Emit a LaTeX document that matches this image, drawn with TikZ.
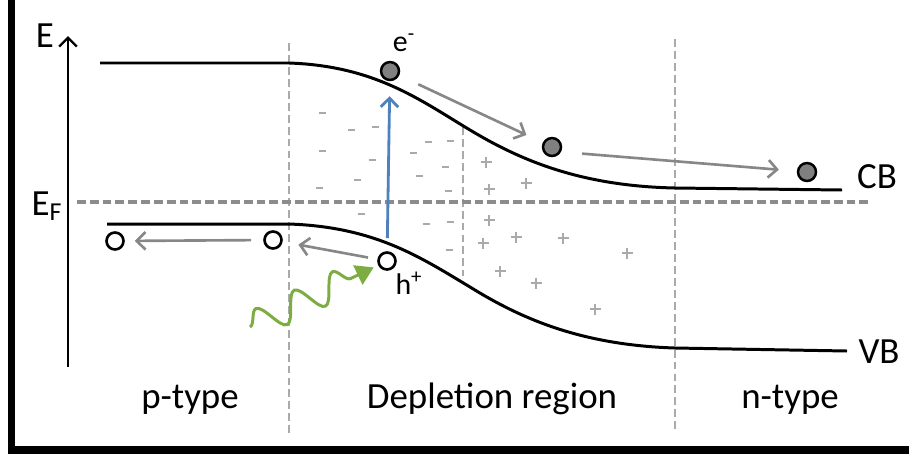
\documentclass[tikz,border=0pt]{standalone}
\usepackage{fontspec}
\setmainfont{Carlito}
\usepackage{xcolor}
\usepackage{tikz}
\usetikzlibrary{arrows.meta,decorations.pathmorphing}

\definecolor{bandblue}{RGB}{79,129,189}
\definecolor{photongreen}{RGB}{125,172,66}
\definecolor{driftgray}{RGB}{135,135,135}
\definecolor{chargegray}{RGB}{170,170,170}

\begin{document}
\begin{tikzpicture}[x=0.02cm, y=-0.02cm,
  electron/.style={circle, draw, line width=1.4pt, fill=black!50, minimum size=0.36cm, inner sep=0pt},
  hole/.style={circle, draw, line width=1.5pt, fill=white, minimum size=0.34cm, inner sep=0pt},
  drift/.style={-{Straight Barb[length=5pt,width=10pt]}, driftgray, line width=1.5pt},
  band/.style={line width=1.7pt},
  region/.style={chargegray, line width=1.1pt, dash pattern=on 4.5pt off 2.3pt},
  charge/.style={chargegray, line width=0.8pt},
  lbl/.style={font=\fontsize{21}{25}\selectfont},
  small/.style={font=\fontsize{17}{20}\selectfont}
]
\useasboundingbox (0,0) rectangle (909,457);
\clip (0,0) rectangle (909,457);

% frame
\draw[line width=4pt] (11.5,-10) rectangle (930,450);

% region borders
\draw[region] (289,43) -- (289,437);
\draw[region] (675,39) -- (675,432);
\draw[region] (463,127) -- (463,276);

% Fermi level
\draw[black!45, line width=2pt, dash pattern=on 5pt off 2.3pt] (77,202) -- (872,202);

% fixed charges
\foreach \x/\y in {322/113, 351/130, 375/127, 322/151, 372/160, 357/180, 319/188,
  428/142, 450/141, 413/153, 445/167, 419/176, 448/191, 361/214, 426/224, 450/222, 449/250}
  \draw[charge] (\x-3.5,\y) -- (\x+3.5,\y);
\foreach \x/\y in {486/162, 489/189, 526/183, 489/220, 483/243, 516/237, 563/238,
  627/253, 500/271, 536/283, 595/309}
  \draw[charge] (\x-5.5,\y) -- (\x+5.5,\y) (\x,\y-5.5) -- (\x,\y+5.5);

% energy axis
\draw[line width=1.4pt, -{Straight Barb[length=5pt,width=10pt]}] (68,367) -- (68,36);
\node[lbl] (E) at (45,36) {E};
\node[lbl] (EF) at (47,206) {E\textsubscript{F}};

% bands
\draw[band] (100,63) -- (289,63) .. controls (375,66) and (420,100) .. (470,130)
  .. controls (520,160) and (580,186) .. (675,188) -- (842,190);
\draw[band] (107,224) -- (289,224) .. controls (375,227) and (420,257) .. (470,287)
  .. controls (520,318) and (580,345) .. (675,348) -- (847,351);
\node[lbl] (CB) at (877,177) {CB};
\node[lbl] (VB) at (879,352) {VB};

% carriers
\node[electron] (e1) at (390,71) {};
\node[electron] (e2) at (552,147) {};
\node[electron] (e3) at (807,172) {};
\node[hole] (h1) at (115,241) {};
\node[hole] (h2) at (273,240) {};
\node[hole] (h3) at (387,261) {};
\node[small] (elabel) at (404,43) {e\textsuperscript{-}};
\node[small] (hlabel) at (409,283) {h\textsuperscript{+}};

% drift of carriers
\draw[drift, shorten <=0.42cm, shorten >=0.36cm] (e1) -- (e2);
\draw[drift, shorten <=0.4cm, shorten >=0.36cm] ([yshift=-0.1cm]e2.east) -- (e3);
\draw[drift, shorten <=0.24cm, shorten >=0.2cm] (h2) -- (h1);
\draw[drift, shorten <=0.19cm, shorten >=0.32cm] (h3) -- (h2);

% excitation
\draw[bandblue, line width=1.6pt, -{Straight Barb[length=5pt,width=10pt]},
  shorten <=0.26cm, shorten >=0.3cm] (h3) -- (e1);

% photon
\coordinate (photon) at (250,327);
\draw[photongreen, line width=1.7pt, -{Triangle[length=10pt,width=12pt]},
  decorate, decoration={snake, amplitude=0.28cm, segment length=0.85cm, post length=0.25cm},
  shorten >=0.1cm] (photon) -- (h3);

% region labels
\node[font=\fontsize{21}{25}\selectfont, anchor=base] (ptype) at (190,408) {p-type};
\node[font=\fontsize{21}{25}\selectfont, anchor=base] (depl) at (492,408) {Depletion region};
\node[font=\fontsize{21}{25}\selectfont, anchor=base] (ntype) at (790,408) {n-type};
\end{tikzpicture}
\end{document}
